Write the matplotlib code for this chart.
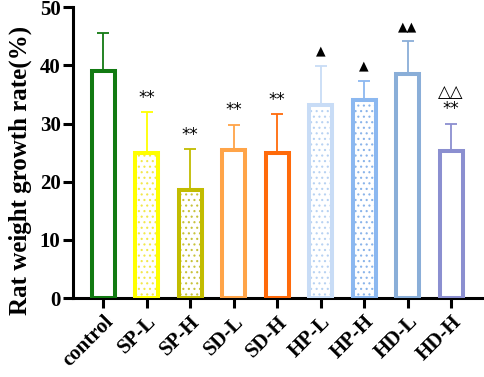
import matplotlib
matplotlib.use("Agg")
import matplotlib.pyplot as plt
import numpy as np

categories = ["control", "SP-L", "SP-H", "SD-L", "SD-H", "HP-L", "HP-H", "HD-L", "HD-H"]
means = [39.0, 24.9, 18.6, 25.5, 25.0, 33.1, 34.0, 38.5, 25.2]
errors = [6.5, 7.0, 7.0, 4.3, 6.6, 6.8, 3.3, 5.6, 4.8]
marks_lower = ["", "**", "**", "**", "**", "▲", "▲", "▲▲", "**"]
marks_upper = ["", "", "", "", "", "", "", "", "△△"]
edge_colors = ["#127a12", "#ffff00", "#c2bc00", "#ffa448", "#ff6a0a",
               "#c8dcf6", "#8cb8f0", "#8aaed8", "#8b8fd0"]
hatch_colors = [None, "#f2e84a", "#c8c23a", None, None, "#b8d2f2", "#8ab4ea", None, None]
hatches = [None, "...", "...", None, None, "...", "...", None, None]

plt.rcParams["font.family"] = ["Liberation Serif", "DejaVu Sans"]
plt.rcParams["font.weight"] = "bold"
plt.rcParams["hatch.linewidth"] = 0.8

fig = plt.figure(figsize=(4.84, 3.77), dpi=100)
ax = fig.add_axes([0.151, 0.2095, 0.845, 0.7715])

x = np.arange(len(categories))
for i in range(len(categories)):
    ax.bar(x[i], means[i], width=0.53, facecolor="white", edgecolor="none",
           linewidth=0, zorder=2)
    if hatches[i]:
        ax.bar(x[i], means[i], width=0.53, facecolor="none", edgecolor=hatch_colors[i],
               linewidth=0, hatch=hatches[i], zorder=2)
    ax.bar(x[i], means[i], width=0.53, facecolor="none", edgecolor=edge_colors[i],
           linewidth=2.9, zorder=3)
    ax.errorbar(x[i], means[i], yerr=[[0], [errors[i]]], fmt="none",
                ecolor=edge_colors[i], elinewidth=1.3, capsize=4.5, capthick=1.3, zorder=1)
    top = means[i] + errors[i]
    if marks_lower[i]:
        star = marks_lower[i].startswith("*")
        ax.annotate(marks_lower[i], (x[i], top), xytext=(0, 4 if star else 6),
                    textcoords="offset points", ha="center", va="bottom",
                    fontsize=12 if star else 9, fontweight="normal",
                    family=["DejaVu Sans"], color="black")
    if marks_upper[i]:
        ax.annotate(marks_upper[i], (x[i], top), xytext=(0, 16),
                    textcoords="offset points", ha="center", va="bottom",
                    fontsize=12, fontweight="normal", family=["DejaVu Sans"], color="black")

ax.set_xlim(-0.69, 8.71)
ax.set_ylim(0, 50)
ax.set_yticks([0, 10, 20, 30, 40, 50])
ax.set_xticks(x)
ax.set_xticklabels(categories, rotation=45, ha="right", rotation_mode="anchor",
                   fontsize=15, fontweight="bold")
for lab in ax.get_yticklabels():
    lab.set_fontsize(15)
    lab.set_fontweight("bold")
ax.set_ylabel("Rat weight growth rate(%)", fontsize=18, fontweight="bold")
ax.yaxis.set_label_coords(-0.10, 0.44)

for s in ["top", "right"]:
    ax.spines[s].set_visible(False)
for s in ["left", "bottom"]:
    ax.spines[s].set_linewidth(2.2)
ax.tick_params(axis="both", width=2.2, length=7, direction="out", pad=2)
ax.tick_params(axis="x", pad=3)

fig.savefig("out.png", dpi=100)
